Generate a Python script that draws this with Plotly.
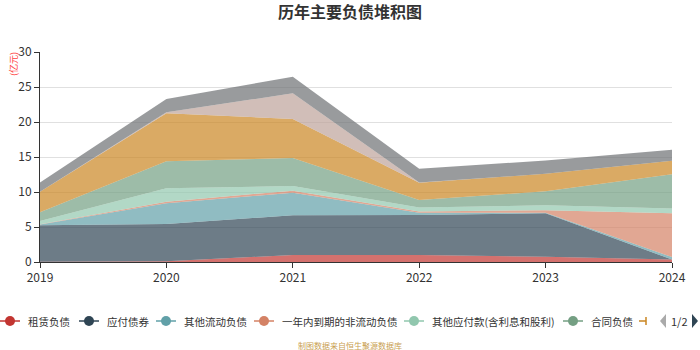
import plotly.graph_objects as go

# ---------------- data ----------------
years = ["2019", "2020", "2021", "2022", "2023", "2024"]

series_names = [
    "租赁负债",
    "应付债券",
    "其他流动负债",
    "一年内到期的非流动负债",
    "其他应付款(含利息和股利)",
    "合同负债",
    "应付账款",
    "应付票据",
    "短期借款",
]

zulin = [0.05, 0.10, 1.00, 1.00, 0.76, 0.35]
yingfu_zhaiquan = [5.19, 5.33, 5.67, 5.70, 6.19, 0.00]
qita_liudong = [0.10, 2.95, 3.23, 0.35, 0.10, 0.35]
yinian_daoqi = [0.05, 0.24, 0.29, 0.15, 0.35, 6.25]
qita_yingfu = [0.46, 1.90, 0.67, 0.60, 0.70, 0.70]
hetong = [1.24, 3.86, 4.00, 1.05, 2.00, 4.90]
series7 = [2.95, 6.86, 5.57, 2.47, 2.50, 1.90]
series8 = [0.00, 0.14, 3.67, 0.03, 0.00, 0.00]
series9 = [1.33, 1.91, 2.37, 1.97, 1.90, 1.60]

values = [zulin, yingfu_zhaiquan, qita_liudong, yinian_daoqi, qita_yingfu,
          hetong, series7, series8, series9]

colors = ["#c23531", "#2f4554", "#61a0a8", "#d48265", "#91c7ae",
          "#749f83", "#ca8622", "#bda29a", "#6e7074"]

y_ticks = [0, 5, 10, 15, 20, 25, 30]

title_text = "历年主要负债堆积图"
unit_text = "(亿元)"
source_text = "制图数据来自恒生聚源数据库"
pager_text = "1/2"
legend_visible = 6

# ---------------- layout constants (pixels) ----------------
W, H = 700, 350
L, R, T, B = 40, 28, 52, 88
PW, PH = W - L - R, H - T - B


def rgba(hexc, a):
    hexc = hexc.lstrip("#")
    r, g, b = int(hexc[0:2], 16), int(hexc[2:4], 16), int(hexc[4:6], 16)
    return f"rgba({r},{g},{b},{a})"


def px_x(px):
    return (px - L) / PW


def px_y(py):
    return (H - B - py) / PH


fig = go.Figure()
for name, vals, col in zip(series_names, values, colors):
    fig.add_trace(go.Scatter(
        x=years, y=vals, name=name, mode="lines",
        stackgroup="one", line=dict(width=0, color=col),
        fillcolor=rgba(col, 0.7), showlegend=False,
    ))

fig.update_layout(
    width=W, height=H,
    margin=dict(l=L, r=R, t=T, b=B),
    paper_bgcolor="white", plot_bgcolor="white",
    font=dict(family="Noto Sans CJK SC, sans-serif", color="#333"),
    title=dict(text=f"<b>{title_text}</b>", x=0.5, xanchor="center",
               y=1 - 12 / H, yanchor="middle", xref="container", yref="container",
               font=dict(size=16, color="#333")),
    xaxis=dict(type="category", range=[0, len(years) - 1], showgrid=False,
               showline=True, linecolor="#333", linewidth=1,
               ticks="outside", ticklen=5, tickcolor="#333",
               tickfont=dict(size=12, color="#333"), zeroline=False,
               fixedrange=True),
    yaxis=dict(range=[0, 30], tickvals=y_ticks, showgrid=True, gridcolor="#e0e0e0",
               showline=True, linecolor="#333", linewidth=1,
               ticks="outside", ticklen=5, tickcolor="#333",
               tickfont=dict(size=12, color="#333"), zeroline=False,
               fixedrange=True),
    showlegend=False,
)

annotations = []
shapes = []

# unit label
annotations.append(dict(text=unit_text, xref="paper", yref="paper",
                        x=px_x(13), y=px_y(64), showarrow=False, textangle=-90,
                        font=dict(size=9, color="#ff4040"),
                        xanchor="center", yanchor="middle"))

# source
annotations.append(dict(text=source_text, xref="paper", yref="paper",
                        x=px_x(350), y=px_y(345), showarrow=False,
                        font=dict(size=8, color="#c9a050"),
                        xanchor="center", yanchor="middle"))

# manual legend (page 1)
legend_y = 321
legend_cx = [10, 89, 166, 264, 414, 573]
for i in range(legend_visible):
    cx = legend_cx[i]
    col = colors[i]
    shapes.append(dict(type="line", xref="paper", yref="paper",
                       x0=px_x(cx - 10), x1=px_x(cx + 10),
                       y0=px_y(legend_y), y1=px_y(legend_y),
                       line=dict(color=col, width=1.5)))
    shapes.append(dict(type="circle", xref="paper", yref="paper",
                       xsizemode="pixel", ysizemode="pixel",
                       xanchor=px_x(cx), yanchor=px_y(legend_y),
                       x0=-5, x1=5, y0=-5, y1=5,
                       fillcolor=col, line=dict(color=col, width=0)))
    annotations.append(dict(text=series_names[i], xref="paper", yref="paper",
                            x=px_x(cx + 16), y=px_y(legend_y), showarrow=False,
                            xanchor="left", yanchor="middle",
                            font=dict(size=10.5, color="#333")))

# partially visible 7th legend entry
shapes.append(dict(type="line", xref="paper", yref="paper",
                   x0=px_x(639), x1=px_x(646), y0=px_y(legend_y), y1=px_y(legend_y),
                   line=dict(color=colors[6], width=1.5)))
shapes.append(dict(type="line", xref="paper", yref="paper",
                   x0=px_x(646), x1=px_x(646), y0=px_y(legend_y - 4), y1=px_y(legend_y + 4),
                   line=dict(color=colors[6], width=1.5)))

# pager arrows
shapes.append(dict(type="path", xref="paper", yref="paper",
                   xsizemode="pixel", ysizemode="pixel",
                   xanchor=px_x(663), yanchor=px_y(legend_y),
                   path="M -3 0 L 3 7 L 3 -7 Z",
                   fillcolor="#aaaaaa", line=dict(width=0)))
shapes.append(dict(type="path", xref="paper", yref="paper",
                   xsizemode="pixel", ysizemode="pixel",
                   xanchor=px_x(695), yanchor=px_y(legend_y),
                   path="M 3 0 L -3 7 L -3 -7 Z",
                   fillcolor="#2f4554", line=dict(width=0)))
annotations.append(dict(text=pager_text, xref="paper", yref="paper",
                        x=px_x(679), y=px_y(legend_y), showarrow=False,
                        xanchor="center", yanchor="middle",
                        font=dict(size=11, color="#333")))

fig.update_layout(annotations=annotations, shapes=shapes)

fig.write_html("out.html")
